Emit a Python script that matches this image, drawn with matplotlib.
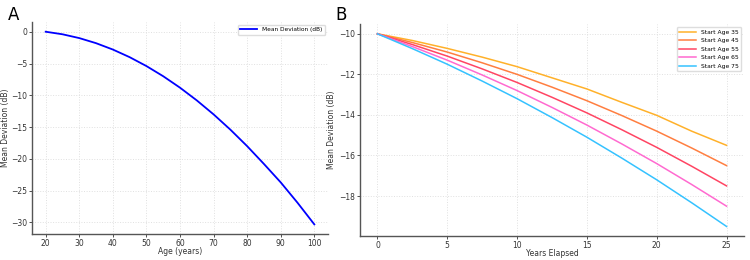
import matplotlib
matplotlib.use("Agg")
import matplotlib.pyplot as plt

# Panel A: mean deviation vs age
ages = [20, 25, 30, 35, 40, 45, 50, 55, 60, 65, 70, 75, 80, 85, 90, 95, 100]
md_age = [0.0, -0.4, -1.0, -1.8, -2.8, -4.0, -5.4, -7.0, -8.8, -10.8,
          -13.0, -15.4, -18.0, -20.8, -23.7, -26.9, -30.3]

# Panel B: progression from different start ages
years = [0, 2.5, 5, 7.5, 10, 12.5, 15, 17.5, 20, 22.5, 25]
start_labels = ["Start Age 35", "Start Age 45", "Start Age 55", "Start Age 65", "Start Age 75"]
md_35 = [-10.0, -10.33, -10.72, -11.15, -11.62, -12.17, -12.72, -13.38, -14.02, -14.80, -15.50]
md_45 = [-10.0, -10.43, -10.90, -11.43, -12.00, -12.63, -13.30, -14.03, -14.80, -15.63, -16.50]
md_55 = [-10.0, -10.53, -11.10, -11.73, -12.40, -13.13, -13.90, -14.73, -15.60, -16.53, -17.50]
md_65 = [-10.0, -10.63, -11.30, -12.03, -12.80, -13.63, -14.50, -15.43, -16.40, -17.43, -18.50]
md_75 = [-10.0, -10.73, -11.50, -12.33, -13.20, -14.13, -15.10, -16.13, -17.20, -18.33, -19.50]
colors = ["#FFB12A", "#FF7E40", "#FF4563", "#FF6AD0", "#35C2FF"]

fig = plt.figure(figsize=(7.5, 2.6), dpi=100)
ax1 = fig.add_axes([0.043, 0.10, 0.394, 0.815])
ax2 = fig.add_axes([0.480, 0.092, 0.512, 0.815])


def style(ax):
    ax.grid(True, color="#e0e0e0", linestyle=":", linewidth=0.7)
    ax.set_axisbelow(True)
    for s in ["top", "right"]:
        ax.spines[s].set_visible(False)
    for s in ["left", "bottom"]:
        ax.spines[s].set_color("#555555")
        ax.spines[s].set_linewidth(1.0)
    ax.tick_params(labelsize=5.5, length=2, width=0.6, colors="#333333", pad=1.5)


ax1.plot(ages, md_age, color="blue", linewidth=1.3, label="Mean Deviation (dB)")
ax1.set_xlabel("Age (years)", fontsize=5.5, color="#333333")
ax1.set_ylabel("Mean Deviation (dB)", fontsize=5.5, color="#333333")
ax1.xaxis.set_label_coords(0.5, -0.063)
ax1.yaxis.set_label_coords(-0.074, 0.5)
ax1.set_xticks([20, 30, 40, 50, 60, 70, 80, 90, 100])
ax1.set_yticks([0, -5, -10, -15, -20, -25, -30])
ax1.legend(loc="upper right", fontsize=4.2, handlelength=3, framealpha=1, edgecolor="#dddddd")
style(ax1)

for vals, c, lab in zip([md_35, md_45, md_55, md_65, md_75], colors, start_labels):
    ax2.plot(years, vals, color=c, linewidth=1.1, label=lab)
ax2.set_xlabel("Years Elapsed", fontsize=5.5, color="#333333")
ax2.set_ylabel("Mean Deviation (dB)", fontsize=5.5, color="#333333")
ax2.xaxis.set_label_coords(0.5, -0.063)
ax2.yaxis.set_label_coords(-0.062, 0.5)
ax2.set_xticks([0, 5, 10, 15, 20, 25])
ax2.set_yticks([-10, -12, -14, -16, -18])
ax2.legend(loc="upper right", fontsize=4.3, handlelength=2.8, framealpha=1,
           edgecolor="#dddddd", labelspacing=0.55)
style(ax2)

fig.text(0.011, 0.925, "A", fontsize=12)
fig.text(0.447, 0.925, "B", fontsize=12)

fig.savefig("out.png", dpi=100)
